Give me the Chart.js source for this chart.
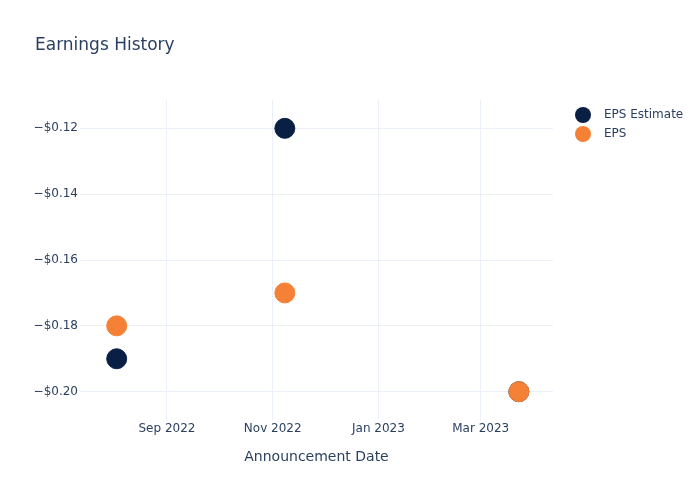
<!DOCTYPE html>
<html>
<head>
<meta charset="utf-8">
<script src="https://cdn.jsdelivr.net/npm/chart.js@4.4.0/dist/chart.umd.min.js"></script>
<style>
  html, body { margin: 0; padding: 0; background: #fff; }
  #wrap { width: 700px; height: 500px; position: relative; }
</style>
</head>
<body>
<div id="wrap"><canvas id="chart"></canvas></div>
<script>
// Earnings history: announcement dates and EPS values
const announceDates = ['2022-08-03', '2022-11-08', '2023-03-23'];
const epsEstimate = [-0.19, -0.12, -0.20];
const epsActual = [-0.18, -0.17, -0.20];
const seriesNames = ['EPS Estimate', 'EPS'];
const seriesColors = ['#0a1f44', '#f58137'];
const xTickDates = ['2022-09-01', '2022-11-01', '2023-01-01', '2023-03-01'];
const yTickValues = [-0.20, -0.18, -0.16, -0.14, -0.12];

const textColor = '#2a3f5f';
const gridColor = '#ebf0f8';
const fontFamily = '"DejaVu Sans", Verdana, sans-serif';
const monthNames = ['Jan', 'Feb', 'Mar', 'Apr', 'May', 'Jun', 'Jul', 'Aug', 'Sep', 'Oct', 'Nov', 'Dec'];

function toTime(s) { return Date.parse(s + 'T00:00:00Z'); }

function fmtDate(v) {
    const d = new Date(v);
    return monthNames[d.getUTCMonth()] + ' ' + d.getUTCFullYear();
}

function fmtMoney(v) {
    const s = '$' + Math.abs(v).toFixed(2);
    return v < 0 ? '\u2212' + s : s;
}

// title + legend drawn in plotly style
const decorPlugin = {
    id: 'decor',
    afterDraw(chart) {
        const ctx = chart.ctx;
        ctx.save();
        ctx.fillStyle = textColor;
        ctx.textBaseline = 'middle';
        ctx.textAlign = 'left';
        ctx.font = '17px ' + fontFamily;
        ctx.fillText('Earnings History', 35, 46);
        ctx.font = '12px ' + fontFamily;
        seriesNames.forEach((name, i) => {
            const y = 115 + i * 19;
            ctx.beginPath();
            ctx.arc(583, y, 8, 0, Math.PI * 2);
            ctx.fillStyle = seriesColors[i];
            ctx.fill();
            ctx.fillStyle = textColor;
            ctx.fillText(name, 604, y);
        });
        ctx.restore();
    }
};

new Chart(document.getElementById('chart'), {
    type: 'scatter',
    data: {
        datasets: [
            {
                label: seriesNames[0],
                data: announceDates.map((d, i) => ({ x: toTime(d), y: epsEstimate[i] })),
                backgroundColor: seriesColors[0],
                borderColor: seriesColors[0],
                pointRadius: 10,
                pointHoverRadius: 10,
                order: 1
            },
            {
                label: seriesNames[1],
                data: announceDates.map((d, i) => ({ x: toTime(d), y: epsActual[i] })),
                backgroundColor: seriesColors[1],
                borderColor: seriesColors[1],
                pointRadius: 10,
                pointHoverRadius: 10,
                order: 0
            }
        ]
    },
    options: {
        responsive: true,
        maintainAspectRatio: false,
        animation: false,
        layout: { padding: { top: 100, right: 147, left: 0, bottom: 30 } },
        plugins: {
            legend: { display: false },
            title: { display: false },
            tooltip: { enabled: false }
        },
        scales: {
            x: {
                type: 'linear',
                min: Date.UTC(2022, 6, 12, 20),
                max: Date.UTC(2023, 3, 11, 17),
                afterBuildTicks(scale) {
                    scale.ticks = xTickDates.map(d => ({ value: toTime(d) }));
                },
                afterFit(scale) { scale.height = 50; },
                grid: { color: gridColor, drawTicks: false },
                border: { display: false },
                ticks: {
                    color: textColor,
                    font: { family: fontFamily, size: 12 },
                    padding: 2,
                    maxRotation: 0,
                    callback: v => fmtDate(v)
                },
                title: {
                    display: true,
                    text: 'Announcement Date',
                    color: textColor,
                    font: { family: fontFamily, size: 14 },
                    padding: { top: 4, bottom: 4 }
                }
            },
            y: {
                min: -0.2086,
                max: -0.1114,
                afterBuildTicks(scale) {
                    scale.ticks = yTickValues.map(v => ({ value: v }));
                },
                afterFit(scale) { scale.width = 80; },
                grid: { color: gridColor, drawTicks: false },
                border: { display: false },
                ticks: {
                    color: textColor,
                    font: { family: fontFamily, size: 12 },
                    padding: 2,
                    callback: v => fmtMoney(v)
                }
            }
        }
    },
    plugins: [decorPlugin]
});
</script>
</body>
</html>
